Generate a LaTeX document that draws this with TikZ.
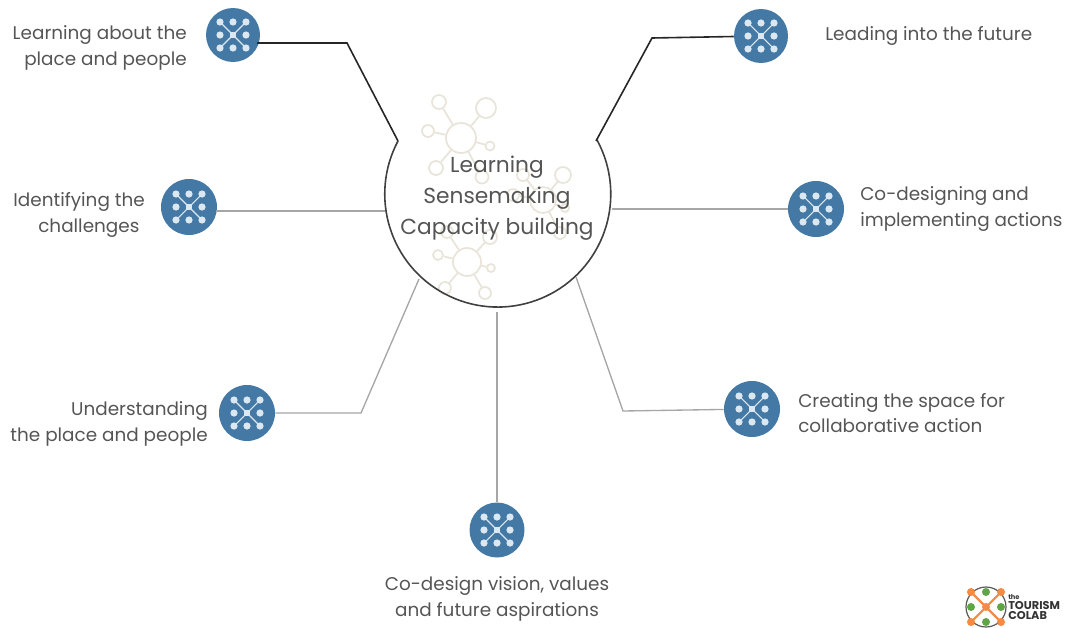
\documentclass[tikz,border=0pt]{standalone}
\usepackage{fontspec}
\setmainfont{Poppins}
\definecolor{hubblue}{HTML}{4479A5}
\definecolor{dotblue}{HTML}{DCE8F1}
\definecolor{ringtan}{HTML}{E9E4DA}
\definecolor{labelgrey}{HTML}{555555}
\definecolor{logoorange}{HTML}{F58A42}
\definecolor{logogreen}{HTML}{5FA545}
\tikzset{
  iconbox/.style={circle,fill=hubblue,inner sep=0pt,minimum size=#1*0.75pt},
  ring/.style={circle,draw=ringtan,line width=1.3pt,inner sep=0pt,minimum size=#1*0.75pt},
  spoke/.style={ringtan,line width=1.3pt},
  sidelabel/.style={text=labelgrey,font=\fontsize{13.8}{19.2}\selectfont},
  midlabel/.style={text=labelgrey,font=\fontsize{16.3}{23}\selectfont},
  darkline/.style={black!85,line width=1.2pt},
  greyline/.style={black!35,line width=1pt},
  netmark/.pic={
    \draw[dotblue,line width=0.8pt] (-13,-13) -- (13,13) (-13,13) -- (13,-13);
    \foreach \x/\y in {-13/-13,0/-13,13/-13,-13/0,13/0,-13/13,0/13,13/13} {
      \fill[dotblue] (\x,\y) circle (3.6);
    }
    \fill[dotblue] (-3,-3) rectangle (3,3);
  }
}
\begin{document}
\begin{tikzpicture}[x=0.75pt,y=-0.75pt]
  \useasboundingbox (0,0) rectangle (1067,628);

  % Pale network marks behind the text
  \node[ring=30] (coreA) at (461,138) {};
  \foreach \x/\y/\r in {439/102/14, 486/108/20, 428/131/12, 490/146/9, 436/168/14, 482/177/13} {
    \node[ring=\r] (sat) at (\x,\y) {};
    \draw[spoke] (coreA) -- (sat);
  }
  \node[ring=26] (coreB) at (543,200) {};
  \foreach \x/\y/\r in {563/175/16, 513/195/12, 565/208/8, 560/233/12, 523/175/12} {
    \node[ring=\r] (sat) at (\x,\y) {};
    \draw[spoke] (coreB) -- (sat);
  }
  \node[ring=28] (coreC) at (467,262) {};
  \foreach \x/\y/\r in {438/255/10, 491/268/8, 445/288/12, 485/293/12, 490/237/14, 447/232/12} {
    \node[ring=\r] (sat) at (\x,\y) {};
    \draw[spoke] (coreC) -- (sat);
  }

  % Open circle in the middle
  \coordinate (notchL) at (398,141);
  \coordinate (notchR) at (596,141);
  \draw[black!75,line width=1.2pt] (notchL) arc[start angle=208,end angle=-29,radius=113];
  \node[midlabel,align=center] (centre) at (497,198) {Learning\\Sensemaking\\Capacity building};

  % Icons
  \node[iconbox=54] (place) at (233,35) {};
  \node[iconbox=56] (challenge) at (189,207) {};
  \node[iconbox=56] (understand) at (247,413) {};
  \node[iconbox=55] (vision) at (497,530) {};
  \node[iconbox=56] (space) at (752,409) {};
  \node[iconbox=56] (actions) at (816,209) {};
  \node[iconbox=54] (future) at (761,36) {};
  \foreach \n in {place,challenge,understand,vision,space,actions,future} {
    \pic at (\n) {netmark};
  }

  % Connectors
  \coordinate (bendA) at (347,43);
  \coordinate (bendB) at (652,38);
  \coordinate (bendC) at (361,413);
  \coordinate (bendD) at (623,411);
  \coordinate (rimB) at (385,211);
  \coordinate (rimC) at (419,279);
  \coordinate (rimD) at (576,277);
  \coordinate (rimE) at (497,312);
  \coordinate (rimF) at (612,209);
  \draw[darkline] (place) ++(24,8) -- (bendA) -- (notchL);
  \draw[darkline] (future) -- (bendB) -- (notchR);
  \draw[greyline] (challenge) ++(27,4) -- (rimB);
  \draw[greyline] (understand) -- (bendC) -- (rimC);
  \draw[greyline] (space) -- (bendD) -- (rimD);
  \draw[greyline] (vision) -- (rimE);
  \draw[greyline] (actions) -- (rimF);

  % Labels
  \node[sidelabel,align=right,anchor=east,inner sep=0pt] (placetxt) at (187,48) {Learning about the\\place and people};
  \node[sidelabel,align=right,anchor=east,inner sep=0pt] (challengetxt) at (145,215) {Identifying the\\challenges\kern4pt};
  \node[sidelabel,align=right,anchor=east,inner sep=0pt] (understandtxt) at (208,424) {Understanding\\the place and people};
  \node[sidelabel,align=center,inner sep=0pt] (visiontxt) at (497,599) {Co-design vision, values\\and future aspirations};
  \node[sidelabel,align=left,anchor=west,inner sep=0pt] (spacetxt) at (798,413) {Creating the space for\\collaborative action};
  \node[sidelabel,align=left,anchor=west,inner sep=0pt] (actionstxt) at (860,209) {Co-designing and\\implementing actions};
  \node[sidelabel,anchor=west,inner sep=0pt] (futuretxt) at (825,36) {Leading into the future};

  % Logo
  \node[circle,draw=black!65,line width=0.9pt,minimum size=30pt,inner sep=0pt] (logo) at (986,607) {};
  \draw[logoorange,line width=1.6pt] (971,592) -- (1001,622) (971,622) -- (1001,592);
  \foreach \x/\y in {971/592,1001/592,971/622,1001/622,986/607} {
    \fill[logoorange] (\x,\y) circle (4);
  }
  \foreach \x/\y in {986/592,971/607,1001/607,986/622} {
    \fill[logogreen] (\x,\y) circle (4);
  }
  \node[anchor=west,inner sep=0pt,align=left,text=black!80,font=\bfseries\fontsize{8.5}{7.5}\selectfont] (logotxt) at (1008,607) {\fontsize{5}{5}\selectfont the\\TOURISM\\COLAB};
\end{tikzpicture}
\end{document}
